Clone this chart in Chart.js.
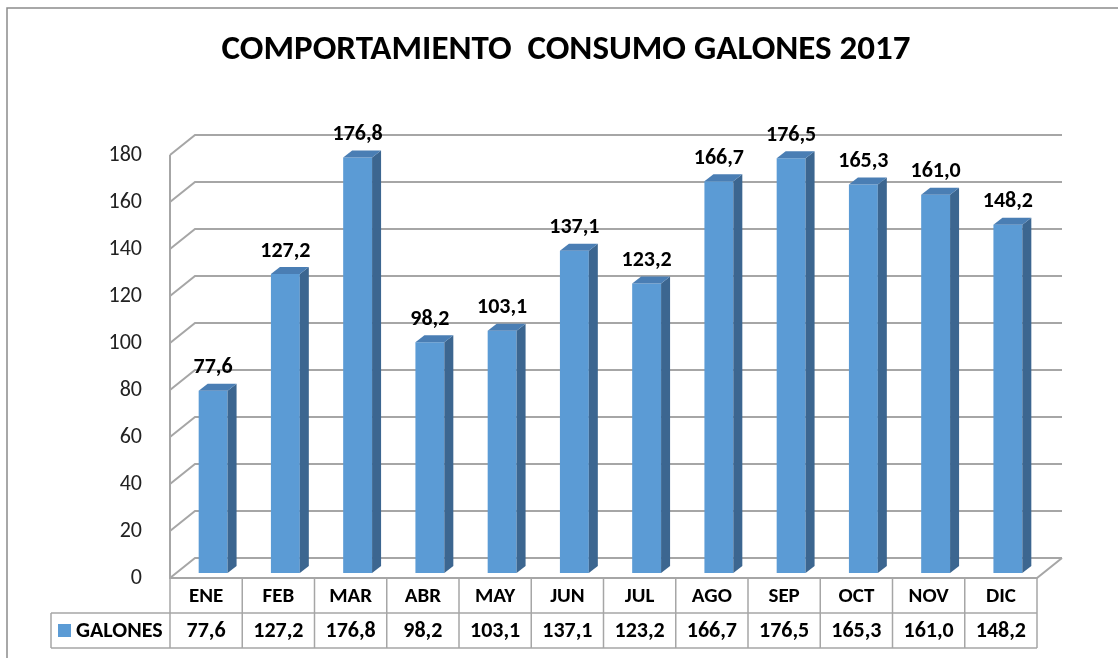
<!DOCTYPE html>
<html>
<head>
<meta charset="utf-8">
<script src="https://cdn.jsdelivr.net/npm/chart.js@4.4.1/dist/chart.umd.min.js"></script>
<style>
  html, body { margin: 0; padding: 0; background: #fff; }
  #wrap { position: absolute; left: 0; top: 0; width: 1118px; height: 658px; }
</style>
</head>
<body>
<div id="wrap"><canvas id="chart" width="1118" height="658"></canvas></div>
<script>
// Data
const months = ['ENE', 'FEB', 'MAR', 'ABR', 'MAY', 'JUN', 'JUL', 'AGO', 'SEP', 'OCT', 'NOV', 'DIC'];
const galones = [77.6, 127.2, 176.8, 98.2, 103.1, 137.1, 123.2, 166.7, 176.5, 165.3, 161.0, 148.2];
const seriesName = 'GALONES';
const chartTitle = 'COMPORTAMIENTO  CONSUMO GALONES 2017';
const yMin = 0;
const yMax = 180;
const yStep = 20;

// Look of the fake 3D box
const wallOffset = { x: 25, y: -20 };   // back wall vs front plane
const barShift = { x: 7, y: -5 };       // bars sit a little behind the front edge
const barDepth = { x: 9, y: -7 };       // depth of each bar
const gridColor = '#a6a6a6';
const barFront = '#5b9bd5';
const barSide = '#3c6690';
const barTop = '#4a7eb4';
const fontFamily = 'Carlito, Lato, "Open Sans", sans-serif';

const fmt = v => v.toFixed(1).replace('.', ',');

const box3d = {
    id: 'box3d',
    beforeDraw(chart) {
        const ctx = chart.ctx;
        ctx.save();
        ctx.fillStyle = '#fff';
        ctx.fillRect(0, 0, chart.width, chart.height);
        // outer frame (only top and left are inside the picture)
        ctx.strokeStyle = '#8c8c8c';
        ctx.lineWidth = 1.5;
        ctx.beginPath();
        ctx.moveTo(7, chart.height);
        ctx.lineTo(7, 8);
        ctx.lineTo(chart.width, 8);
        ctx.stroke();
        ctx.restore();
    },
    beforeDatasetsDraw(chart) {
        const ctx = chart.ctx;
        const area = chart.chartArea;
        const y = chart.scales.y;
        const left = area.left, right = area.right;
        ctx.save();
        ctx.strokeStyle = gridColor;
        ctx.lineWidth = 2;
        ctx.beginPath();
        for (let v = yMin; v <= yMax; v += yStep) {
            const py = y.getPixelForValue(v);
            // side wall diagonal + back wall line
            ctx.moveTo(left, py);
            ctx.lineTo(left + wallOffset.x, py + wallOffset.y);
            ctx.lineTo(right + wallOffset.x, py + wallOffset.y);
        }
        // front axis line
        ctx.moveTo(left, y.getPixelForValue(yMax));
        ctx.lineTo(left, y.getPixelForValue(yMin));
        // floor front edge and right edge
        const p0 = y.getPixelForValue(yMin);
        ctx.lineTo(right, p0);
        ctx.lineTo(right + wallOffset.x, p0 + wallOffset.y);
        ctx.stroke();
        ctx.restore();

        // bars get drawn slightly behind the front edge
        ctx.save();
        ctx.translate(barShift.x, barShift.y);
    },
    afterDatasetsDraw(chart) {
        const ctx = chart.ctx;
        const meta = chart.getDatasetMeta(0);
        meta.data.forEach(bar => {
            const { x, y, base, width } = bar.getProps(['x', 'y', 'base', 'width'], true);
            const l = x - width / 2, r = x + width / 2;
            ctx.fillStyle = barSide;
            ctx.beginPath();
            ctx.moveTo(r, y);
            ctx.lineTo(r + barDepth.x, y + barDepth.y);
            ctx.lineTo(r + barDepth.x, base + barDepth.y);
            ctx.lineTo(r, base);
            ctx.closePath();
            ctx.fill();
            ctx.fillStyle = barTop;
            ctx.beginPath();
            ctx.moveTo(l, y);
            ctx.lineTo(l + barDepth.x, y + barDepth.y);
            ctx.lineTo(r + barDepth.x, y + barDepth.y);
            ctx.lineTo(r, y);
            ctx.closePath();
            ctx.fill();
        });
        // value labels above bars
        ctx.fillStyle = '#000';
        ctx.font = 'bold 22px ' + fontFamily;
        ctx.textAlign = 'center';
        ctx.textBaseline = 'middle';
        meta.data.forEach((bar, i) => {
            const { x, y } = bar.getProps(['x', 'y'], true);
            ctx.fillText(fmt(galones[i]), x, y - 23);
        });
        ctx.restore();

        // data table under the floor
        const area = chart.chartArea;
        const n = months.length;
        const cw = (area.right - area.left) / n;
        const top = chart.scales.y.getPixelForValue(yMin);
        const rowH = 35;
        const tableLeft = 51;
        ctx.save();
        ctx.strokeStyle = gridColor;
        ctx.lineWidth = 1.5;
        ctx.beginPath();
        ctx.moveTo(tableLeft, top + rowH);
        ctx.lineTo(area.right, top + rowH);
        ctx.moveTo(tableLeft, top + 2 * rowH);
        ctx.lineTo(area.right, top + 2 * rowH);
        ctx.moveTo(tableLeft, top + rowH);
        ctx.lineTo(tableLeft, top + 2 * rowH);
        for (let k = 0; k <= n; k++) {
            const px = area.left + k * cw;
            ctx.moveTo(px, top);
            ctx.lineTo(px, top + 2 * rowH);
        }
        ctx.stroke();

        ctx.fillStyle = '#000';
        ctx.textAlign = 'center';
        ctx.textBaseline = 'middle';
        ctx.font = 'bold 21px ' + fontFamily;
        const xs = chart.scales.x;
        months.forEach((m, i) => {
            ctx.fillText(m, xs.getPixelForValue(i), top + rowH / 2 + 1);
        });
        ctx.font = 'bold 22px ' + fontFamily;
        galones.forEach((v, i) => {
            ctx.fillText(fmt(v), xs.getPixelForValue(i), top + rowH * 1.5 + 1);
        });
        // legend key + series name
        ctx.fillStyle = barFront;
        ctx.fillRect(58, top + rowH + 11, 13, 13);
        ctx.fillStyle = '#000';
        ctx.textAlign = 'left';
        ctx.fillText(seriesName, 76, top + rowH * 1.5 + 1);
        ctx.restore();
    }
};

new Chart(document.getElementById('chart'), {
    type: 'bar',
    data: {
        labels: months,
        datasets: [{
            label: seriesName,
            data: galones,
            backgroundColor: barFront,
            borderWidth: 0,
            barPercentage: 0.4,
            categoryPercentage: 1.0,
            clip: false
        }]
    },
    options: {
        responsive: false,
        animation: false,
        events: [],
        layout: { padding: { left: 95, right: 81, top: 0, bottom: 80 } },
        plugins: {
            legend: { display: false },
            tooltip: { enabled: false },
            title: {
                display: true,
                text: chartTitle,
                color: '#000',
                font: { family: fontFamily, size: 35, weight: 'bold' },
                padding: { top: 29, bottom: 84 }
            }
        },
        scales: {
            x: { display: false },
            y: {
                min: yMin,
                max: yMax,
                afterFit: s => { s.width = 75; },
                grid: { display: false },
                border: { display: false },
                ticks: {
                    stepSize: yStep,
                    padding: 20,
                    color: '#222',
                    font: { family: fontFamily, size: 22 }
                }
            }
        }
    },
    plugins: [box3d]
});
</script>
</body>
</html>
